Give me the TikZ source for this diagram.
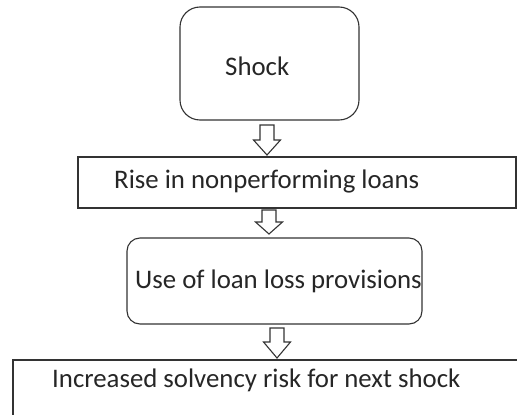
\documentclass[tikz,border=0pt]{standalone}
\usepackage{fontspec}
\setmainfont{Carlito}
\newcommand\hollowarrow[4]{%
  \draw[arrowline] (#1-7,#2) -- (#1+7,#2) -- (#1+7,#3) -- (#1+13.5,#3) -- (#1,#4) -- (#1-13.5,#3) -- (#1-7,#3) -- cycle;}
\begin{document}
\begin{tikzpicture}[x=1pt,y=-1pt,
  box/.style={draw=black!80, line width=1.1pt, inner sep=0pt, outer sep=0pt, fill=white},
  lbl/.style={inner sep=0pt, anchor=base west, font=\fontsize{26.8}{30}\selectfont, text=black!85},
  arrowline/.style={draw=black!80, line width=1.1pt, fill=white, line join=miter}]
\useasboundingbox (0,0) rectangle (517,415);
\clip (0,0) rectangle (517,415);
\fill[white] (0,0) rectangle (517,415);
% boxes
\node[box, rounded corners=20pt, minimum width=179pt, minimum height=113pt] (shock) at (269.5,63.5) {};
\node[box, minimum width=438pt, minimum height=51pt] (npl) at (297,182.5) {};
\node[box, rounded corners=13pt, minimum width=295pt, minimum height=86pt] (llp) at (274.5,281) {};
\node[box, minimum width=517pt, minimum height=80pt] (risk) at (271.5,400) {};
% texts
\node[lbl] (shockt) at (225,75) {Shock};
\node[lbl] (nplt) at (114,188) {Rise in nonperforming loans};
\node[lbl] (llpt) at (135,288) {Use of loan loss provisions};
\node[lbl] (riskt) at (52,387) {Increased solvency risk for next shock};
% arrows
\hollowarrow{267}{125}{140}{155}
\hollowarrow{269}{210}{222}{234}
\hollowarrow{277}{328}{342}{358}
\end{tikzpicture}
\end{document}
